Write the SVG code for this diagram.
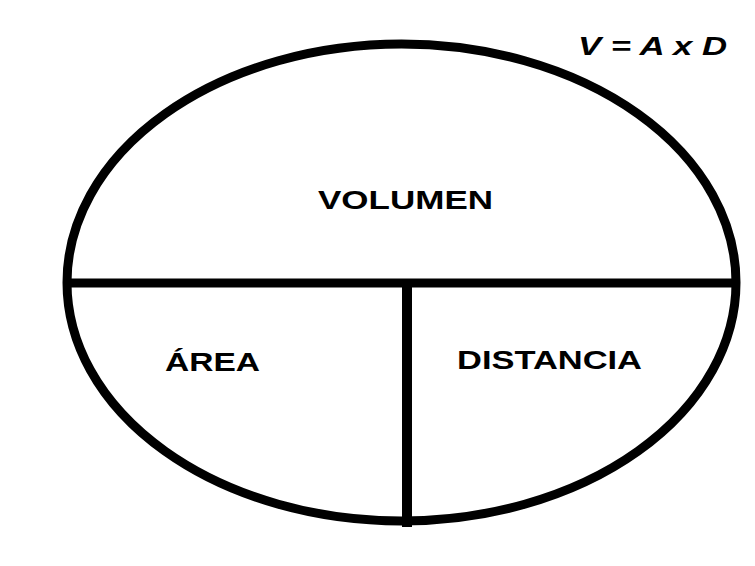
<svg xmlns="http://www.w3.org/2000/svg" width="755" height="566" viewBox="0 0 755 566">
<style>
.ln{stroke:#000;stroke-width:9;fill:none}
.t{font-family:"Liberation Sans",Arial,sans-serif;font-weight:bold;font-size:26px;fill:#000}
</style>
<rect width="755" height="566" fill="#fff"/>
<g id="connectors">
<ellipse class="ln" cx="401.5" cy="282.5" rx="334.5" ry="238.5"/>
<line class="ln" x1="67" y1="283" x2="736" y2="283"/>
<line class="ln" x1="407" y1="283" x2="407" y2="527" style="stroke-width:10"/>
</g>
<g id="formula"><text class="t" x="578" y="55" font-style="italic" textLength="149" lengthAdjust="spacingAndGlyphs">V = A x D</text></g>
<g id="volumen"><text class="t" x="318" y="209" textLength="175" lengthAdjust="spacingAndGlyphs">VOLUMEN</text></g>
<g id="area"><text class="t" x="165" y="371" textLength="95" lengthAdjust="spacingAndGlyphs">ÁREA</text></g>
<g id="distancia"><text class="t" x="457" y="369" textLength="185" lengthAdjust="spacingAndGlyphs">DISTANCIA</text></g>
</svg>
